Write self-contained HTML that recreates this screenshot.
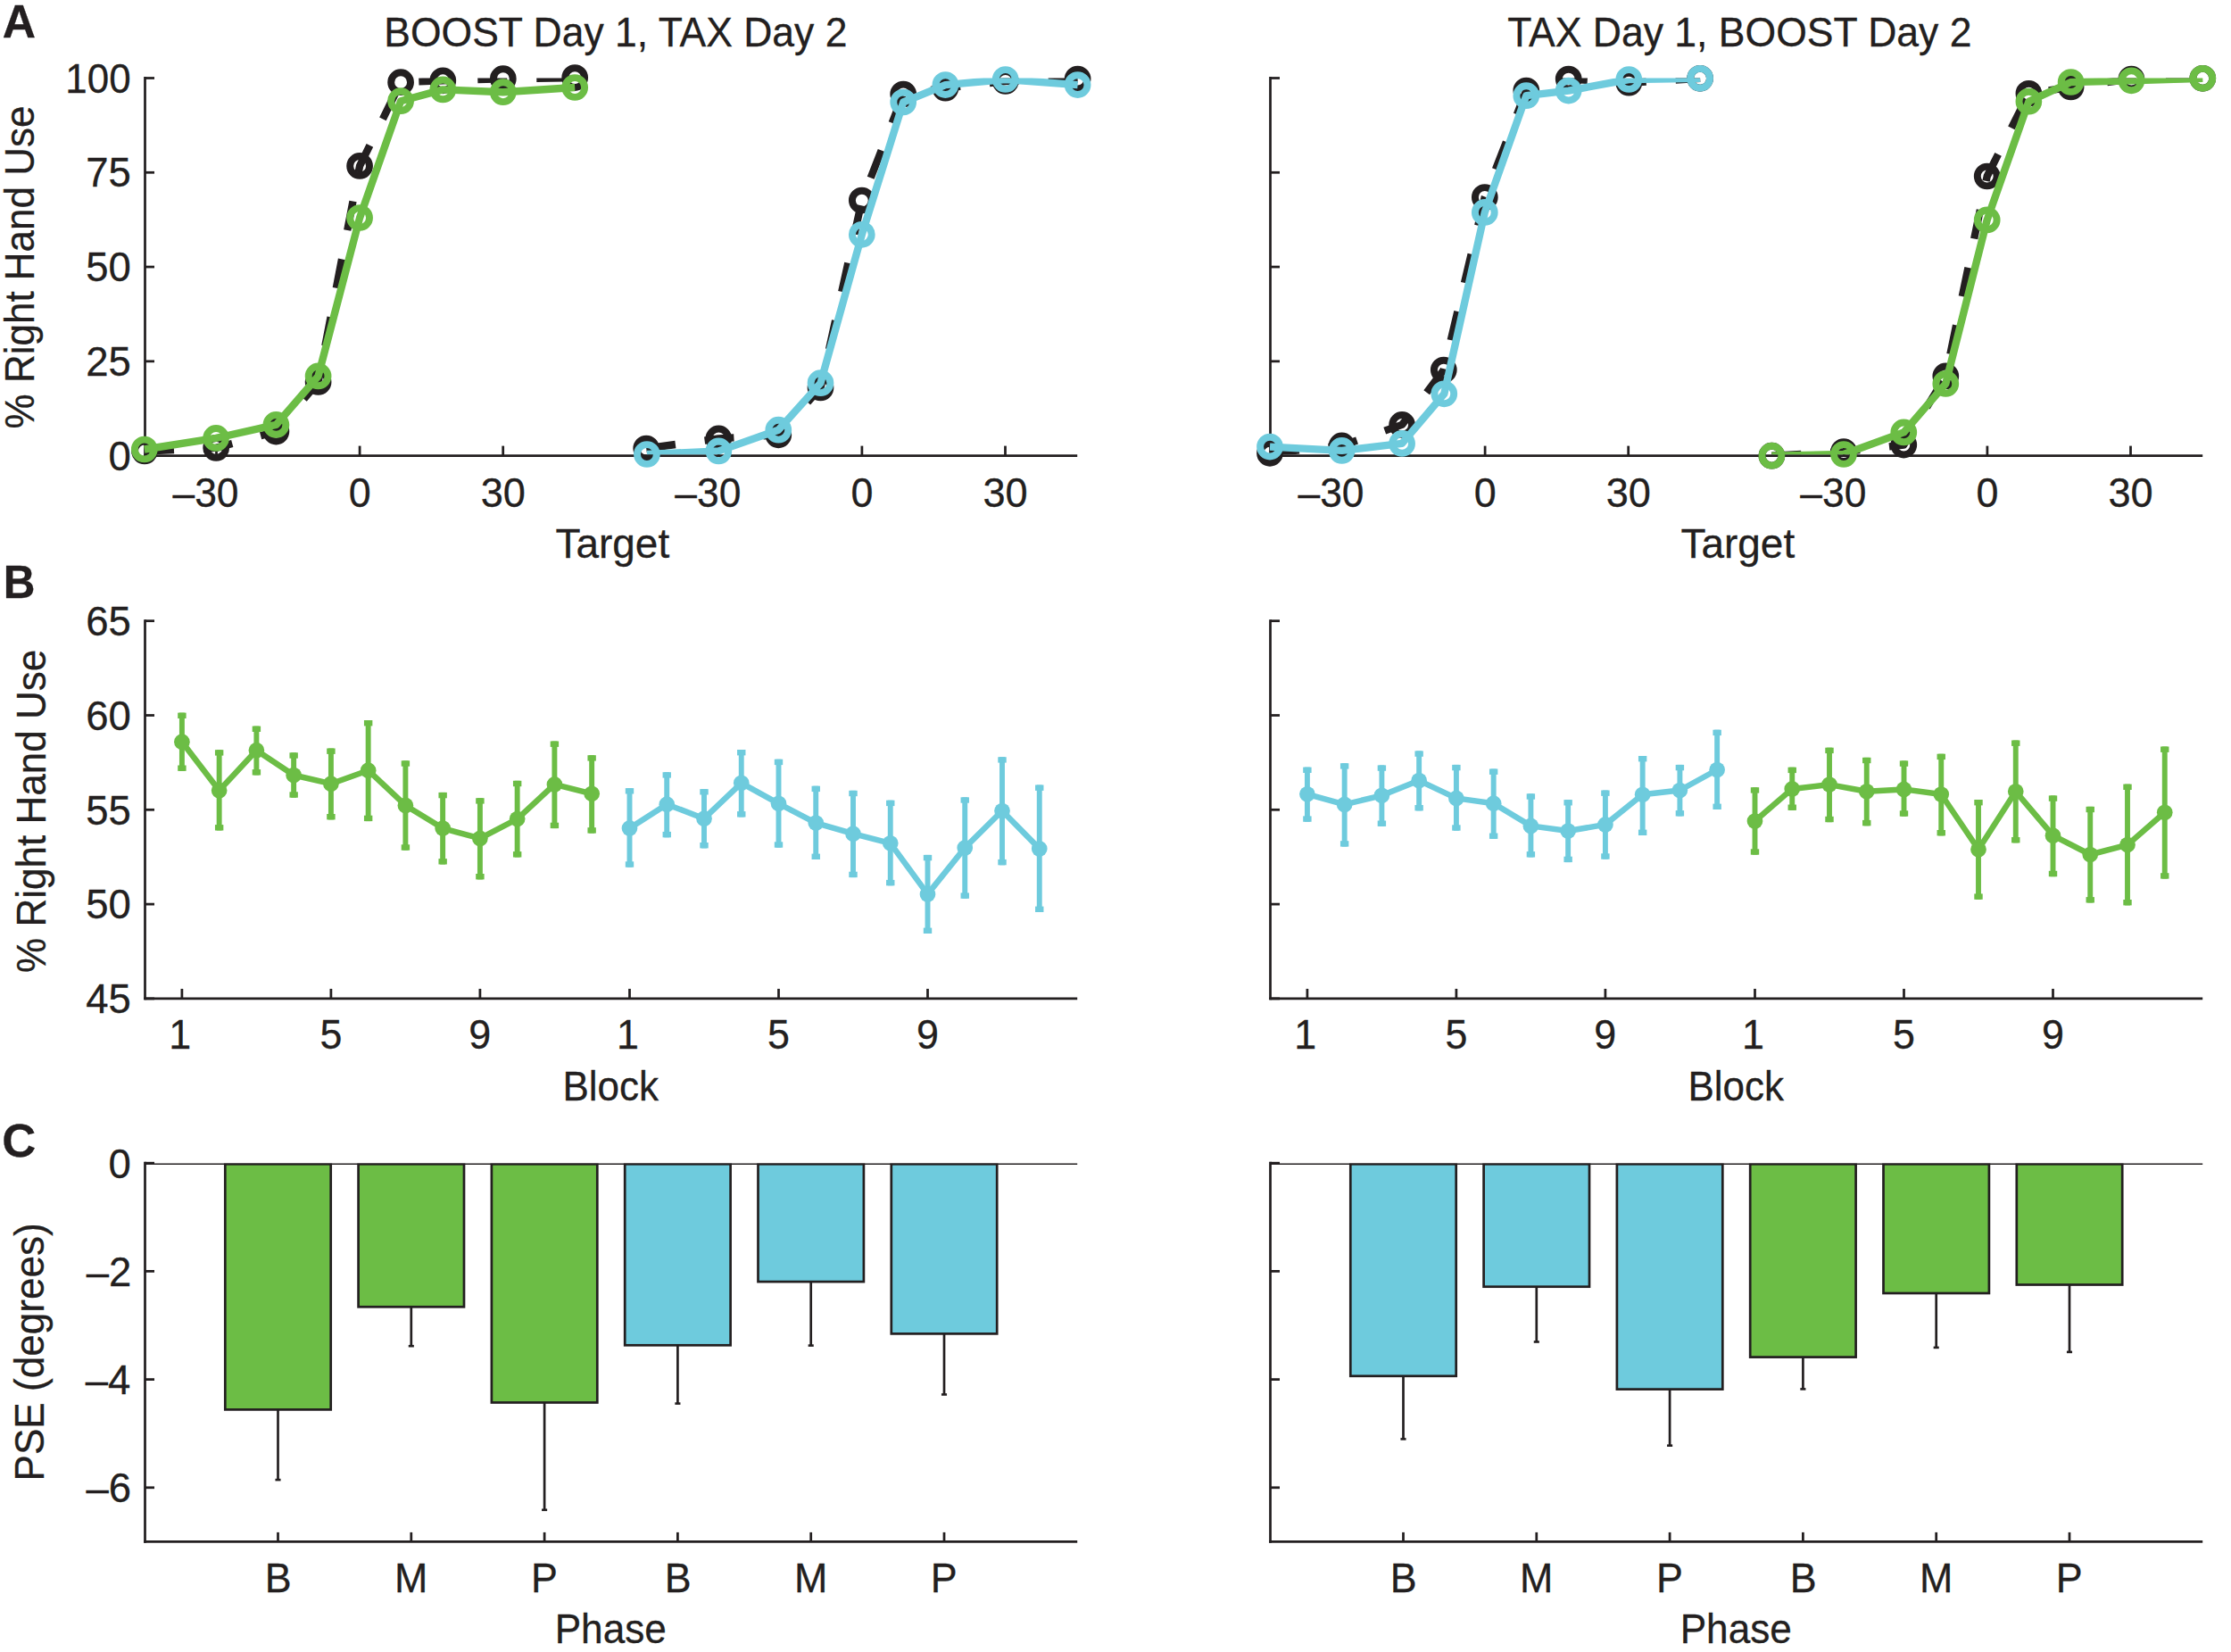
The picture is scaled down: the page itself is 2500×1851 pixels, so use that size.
<!DOCTYPE html>
<html lang="en">
<head>
<meta charset="utf-8">
<title>Figure</title>
<style>
html,body{margin:0;padding:0;background:#fff;}
body{width:2500px;height:1851px;overflow:hidden;}
svg{display:block;}
svg text{font-family:"Liberation Sans",sans-serif;fill:#231f20;stroke:#231f20;stroke-width:0.3px;}
</style>
</head>
<body>
<svg width="2500" height="1851" viewBox="0 0 2500 1851">
<rect x="0" y="0" width="2500" height="1851" fill="#ffffff"/>
<clipPath id="clipA"><rect x="0" y="87.4" width="2500" height="421.83"/></clipPath>
<line x1="162.5" y1="86.12" x2="162.5" y2="511.98" stroke="#231f20" stroke-width="2.75" />
<line x1="161.12" y1="510.6" x2="1207.2" y2="510.6" stroke="#231f20" stroke-width="2.75" />
<line x1="162.5" y1="510.6" x2="173" y2="510.6" stroke="#231f20" stroke-width="2.75" />
<line x1="162.5" y1="404.83" x2="173" y2="404.83" stroke="#231f20" stroke-width="2.75" />
<line x1="162.5" y1="299.05" x2="173" y2="299.05" stroke="#231f20" stroke-width="2.75" />
<line x1="162.5" y1="193.27" x2="173" y2="193.27" stroke="#231f20" stroke-width="2.75" />
<line x1="162.5" y1="87.5" x2="173" y2="87.5" stroke="#231f20" stroke-width="2.75" />
<line x1="242.5" y1="510.6" x2="242.5" y2="499.6" stroke="#231f20" stroke-width="2.75" />
<text x="193.5" y="567.6"  font-size="45.5" textLength="74.03" lengthAdjust="spacingAndGlyphs">–30</text>
<line x1="403.1" y1="510.6" x2="403.1" y2="499.6" stroke="#231f20" stroke-width="2.75" />
<text x="390.66" y="567.6"  font-size="45.5" textLength="24.93" lengthAdjust="spacingAndGlyphs">0</text>
<line x1="563.7" y1="510.6" x2="563.7" y2="499.6" stroke="#231f20" stroke-width="2.75" />
<text x="538.66" y="567.6"  font-size="45.5" textLength="50.19" lengthAdjust="spacingAndGlyphs">30</text>
<line x1="805.3" y1="510.6" x2="805.3" y2="499.6" stroke="#231f20" stroke-width="2.75" />
<text x="756.3" y="567.6"  font-size="45.5" textLength="74.03" lengthAdjust="spacingAndGlyphs">–30</text>
<line x1="965.9" y1="510.6" x2="965.9" y2="499.6" stroke="#231f20" stroke-width="2.75" />
<text x="953.46" y="567.6"  font-size="45.5" textLength="24.93" lengthAdjust="spacingAndGlyphs">0</text>
<line x1="1126.5" y1="510.6" x2="1126.5" y2="499.6" stroke="#231f20" stroke-width="2.75" />
<text x="1101.46" y="567.6"  font-size="45.5" textLength="50.19" lengthAdjust="spacingAndGlyphs">30</text>
<line x1="1423.5" y1="86.12" x2="1423.5" y2="511.98" stroke="#231f20" stroke-width="2.75" />
<line x1="1422.12" y1="510.6" x2="2468.2" y2="510.6" stroke="#231f20" stroke-width="2.75" />
<line x1="1423.5" y1="510.6" x2="1434" y2="510.6" stroke="#231f20" stroke-width="2.75" />
<line x1="1423.5" y1="404.83" x2="1434" y2="404.83" stroke="#231f20" stroke-width="2.75" />
<line x1="1423.5" y1="299.05" x2="1434" y2="299.05" stroke="#231f20" stroke-width="2.75" />
<line x1="1423.5" y1="193.27" x2="1434" y2="193.27" stroke="#231f20" stroke-width="2.75" />
<line x1="1423.5" y1="87.5" x2="1434" y2="87.5" stroke="#231f20" stroke-width="2.75" />
<line x1="1503.5" y1="510.6" x2="1503.5" y2="499.6" stroke="#231f20" stroke-width="2.75" />
<text x="1454.5" y="567.6"  font-size="45.5" textLength="74.03" lengthAdjust="spacingAndGlyphs">–30</text>
<line x1="1664.1" y1="510.6" x2="1664.1" y2="499.6" stroke="#231f20" stroke-width="2.75" />
<text x="1651.66" y="567.6"  font-size="45.5" textLength="24.93" lengthAdjust="spacingAndGlyphs">0</text>
<line x1="1824.7" y1="510.6" x2="1824.7" y2="499.6" stroke="#231f20" stroke-width="2.75" />
<text x="1799.66" y="567.6"  font-size="45.5" textLength="50.19" lengthAdjust="spacingAndGlyphs">30</text>
<line x1="2066.3" y1="510.6" x2="2066.3" y2="499.6" stroke="#231f20" stroke-width="2.75" />
<text x="2017.3" y="567.6"  font-size="45.5" textLength="74.03" lengthAdjust="spacingAndGlyphs">–30</text>
<line x1="2226.9" y1="510.6" x2="2226.9" y2="499.6" stroke="#231f20" stroke-width="2.75" />
<text x="2214.46" y="567.6"  font-size="45.5" textLength="24.93" lengthAdjust="spacingAndGlyphs">0</text>
<line x1="2387.5" y1="510.6" x2="2387.5" y2="499.6" stroke="#231f20" stroke-width="2.75" />
<text x="2362.46" y="567.6"  font-size="45.5" textLength="50.19" lengthAdjust="spacingAndGlyphs">30</text>
<path d="M162 505.5 L242.2 501.9 L309.4 483.6 L356.6 428 L403.1 185.9 L449.1 92.2 L496.3 90.3 L563.8 88.2 L644.2 87.1" fill="none" stroke="#231f20" stroke-width="8.4" stroke-linejoin="round" stroke-dasharray="33 33" clip-path="url(#clipA)"/>
<circle cx="162" cy="505.5" r="10.9" fill="none" stroke="#231f20" stroke-width="7.9"/>
<circle cx="242.2" cy="501.9" r="10.9" fill="none" stroke="#231f20" stroke-width="7.9"/>
<circle cx="309.4" cy="483.6" r="10.9" fill="none" stroke="#231f20" stroke-width="7.9"/>
<circle cx="356.6" cy="428" r="10.9" fill="none" stroke="#231f20" stroke-width="7.9"/>
<circle cx="403.1" cy="185.9" r="10.9" fill="none" stroke="#231f20" stroke-width="7.9"/>
<circle cx="449.1" cy="92.2" r="10.9" fill="none" stroke="#231f20" stroke-width="7.9"/>
<circle cx="496.3" cy="90.3" r="10.9" fill="none" stroke="#231f20" stroke-width="7.9"/>
<circle cx="563.8" cy="88.2" r="10.9" fill="none" stroke="#231f20" stroke-width="7.9"/>
<circle cx="644.2" cy="87.1" r="10.9" fill="none" stroke="#231f20" stroke-width="7.9"/>
<path d="M161.8 503.5 L242.1 490.9 L309.4 475.9 L356.6 421.4 L403.1 244 L449.1 113.2 L496.3 100.4 L563.8 103.2 L644.2 98" fill="none" stroke="#6cbd45" stroke-width="8.4" stroke-linejoin="round" clip-path="url(#clipA)"/>
<circle cx="161.8" cy="503.5" r="10.9" fill="none" stroke="#6cbd45" stroke-width="7.9"/>
<circle cx="242.1" cy="490.9" r="10.9" fill="none" stroke="#6cbd45" stroke-width="7.9"/>
<circle cx="309.4" cy="475.9" r="10.9" fill="none" stroke="#6cbd45" stroke-width="7.9"/>
<circle cx="356.6" cy="421.4" r="10.9" fill="none" stroke="#6cbd45" stroke-width="7.9"/>
<circle cx="403.1" cy="244" r="10.9" fill="none" stroke="#6cbd45" stroke-width="7.9"/>
<circle cx="449.1" cy="113.2" r="10.9" fill="none" stroke="#6cbd45" stroke-width="7.9"/>
<circle cx="496.3" cy="100.4" r="10.9" fill="none" stroke="#6cbd45" stroke-width="7.9"/>
<circle cx="563.8" cy="103.2" r="10.9" fill="none" stroke="#6cbd45" stroke-width="7.9"/>
<circle cx="644.2" cy="98" r="10.9" fill="none" stroke="#6cbd45" stroke-width="7.9"/>
<path d="M724.2 502.5 L805.3 491.4 L872.3 487.3 L919.5 434.5 L965.8 224.6 L1012.2 105.5 L1059.4 98.7 L1126.7 91 L1207.6 88.6" fill="none" stroke="#231f20" stroke-width="8.4" stroke-linejoin="round" stroke-dasharray="33 33" clip-path="url(#clipA)"/>
<circle cx="724.2" cy="502.5" r="10.9" fill="none" stroke="#231f20" stroke-width="7.9"/>
<circle cx="805.3" cy="491.4" r="10.9" fill="none" stroke="#231f20" stroke-width="7.9"/>
<circle cx="872.3" cy="487.3" r="10.9" fill="none" stroke="#231f20" stroke-width="7.9"/>
<circle cx="919.5" cy="434.5" r="10.9" fill="none" stroke="#231f20" stroke-width="7.9"/>
<circle cx="965.8" cy="224.6" r="10.9" fill="none" stroke="#231f20" stroke-width="7.9"/>
<circle cx="1012.2" cy="105.5" r="10.9" fill="none" stroke="#231f20" stroke-width="7.9"/>
<circle cx="1059.4" cy="98.7" r="10.9" fill="none" stroke="#231f20" stroke-width="7.9"/>
<circle cx="1126.7" cy="91" r="10.9" fill="none" stroke="#231f20" stroke-width="7.9"/>
<circle cx="1207.6" cy="88.6" r="10.9" fill="none" stroke="#231f20" stroke-width="7.9"/>
<path d="M724.9 509 L805.3 505.4 L872.3 481.7 L919.5 429.2 L965.8 262.8 L1012.2 114.5 L1059.4 95.1 L1126.7 89 L1207.6 95.1" fill="none" stroke="#6ecbdd" stroke-width="8.4" stroke-linejoin="round" clip-path="url(#clipA)"/>
<circle cx="724.9" cy="509" r="10.9" fill="none" stroke="#6ecbdd" stroke-width="7.9"/>
<circle cx="805.3" cy="505.4" r="10.9" fill="none" stroke="#6ecbdd" stroke-width="7.9"/>
<circle cx="872.3" cy="481.7" r="10.9" fill="none" stroke="#6ecbdd" stroke-width="7.9"/>
<circle cx="919.5" cy="429.2" r="10.9" fill="none" stroke="#6ecbdd" stroke-width="7.9"/>
<circle cx="965.8" cy="262.8" r="10.9" fill="none" stroke="#6ecbdd" stroke-width="7.9"/>
<circle cx="1012.2" cy="114.5" r="10.9" fill="none" stroke="#6ecbdd" stroke-width="7.9"/>
<circle cx="1059.4" cy="95.1" r="10.9" fill="none" stroke="#6ecbdd" stroke-width="7.9"/>
<circle cx="1126.7" cy="89" r="10.9" fill="none" stroke="#6ecbdd" stroke-width="7.9"/>
<circle cx="1207.6" cy="95.1" r="10.9" fill="none" stroke="#6ecbdd" stroke-width="7.9"/>
<path d="M1423 507.8 L1503.6 499.4 L1571.1 475.9 L1617.8 414.6 L1663.8 221 L1710.3 101.6 L1757.7 88.6 L1825.3 92.7 L1905.1 87.8" fill="none" stroke="#231f20" stroke-width="8.4" stroke-linejoin="round" stroke-dasharray="33 33" clip-path="url(#clipA)"/>
<circle cx="1423" cy="507.8" r="10.9" fill="none" stroke="#231f20" stroke-width="7.9"/>
<circle cx="1503.6" cy="499.4" r="10.9" fill="none" stroke="#231f20" stroke-width="7.9"/>
<circle cx="1571.1" cy="475.9" r="10.9" fill="none" stroke="#231f20" stroke-width="7.9"/>
<circle cx="1617.8" cy="414.6" r="10.9" fill="none" stroke="#231f20" stroke-width="7.9"/>
<circle cx="1663.8" cy="221" r="10.9" fill="none" stroke="#231f20" stroke-width="7.9"/>
<circle cx="1710.3" cy="101.6" r="10.9" fill="none" stroke="#231f20" stroke-width="7.9"/>
<circle cx="1757.7" cy="88.6" r="10.9" fill="none" stroke="#231f20" stroke-width="7.9"/>
<circle cx="1825.3" cy="92.7" r="10.9" fill="none" stroke="#231f20" stroke-width="7.9"/>
<circle cx="1905.1" cy="87.8" r="10.9" fill="none" stroke="#231f20" stroke-width="7.9"/>
<path d="M1423 500.6 L1503.6 504.9 L1571.1 496.9 L1618.3 441.3 L1663.8 237.9 L1710.3 107.2 L1757.7 101.6 L1825.3 89 L1905.1 87.8" fill="none" stroke="#6ecbdd" stroke-width="8.4" stroke-linejoin="round" clip-path="url(#clipA)"/>
<circle cx="1423" cy="500.6" r="10.9" fill="none" stroke="#6ecbdd" stroke-width="7.9"/>
<circle cx="1503.6" cy="504.9" r="10.9" fill="none" stroke="#6ecbdd" stroke-width="7.9"/>
<circle cx="1571.1" cy="496.9" r="10.9" fill="none" stroke="#6ecbdd" stroke-width="7.9"/>
<circle cx="1618.3" cy="441.3" r="10.9" fill="none" stroke="#6ecbdd" stroke-width="7.9"/>
<circle cx="1663.8" cy="237.9" r="10.9" fill="none" stroke="#6ecbdd" stroke-width="7.9"/>
<circle cx="1710.3" cy="107.2" r="10.9" fill="none" stroke="#6ecbdd" stroke-width="7.9"/>
<circle cx="1757.7" cy="101.6" r="10.9" fill="none" stroke="#6ecbdd" stroke-width="7.9"/>
<circle cx="1825.3" cy="89" r="10.9" fill="none" stroke="#6ecbdd" stroke-width="7.9"/>
<circle cx="1905.1" cy="87.8" r="10.9" fill="none" stroke="#6ecbdd" stroke-width="7.9"/>
<path d="M1985.4 510.7 L2066 506.1 L2133.3 498.6 L2180.3 421.4 L2226.7 197.5 L2273.4 104.8 L2320.6 97.5 L2388.4 88.5 L2468.3 87.8" fill="none" stroke="#231f20" stroke-width="8.4" stroke-linejoin="round" stroke-dasharray="33 33" clip-path="url(#clipA)"/>
<circle cx="1985.4" cy="510.7" r="10.9" fill="none" stroke="#231f20" stroke-width="7.9"/>
<circle cx="2066" cy="506.1" r="10.9" fill="none" stroke="#231f20" stroke-width="7.9"/>
<circle cx="2133.3" cy="498.6" r="10.9" fill="none" stroke="#231f20" stroke-width="7.9"/>
<circle cx="2180.3" cy="421.4" r="10.9" fill="none" stroke="#231f20" stroke-width="7.9"/>
<circle cx="2226.7" cy="197.5" r="10.9" fill="none" stroke="#231f20" stroke-width="7.9"/>
<circle cx="2273.4" cy="104.8" r="10.9" fill="none" stroke="#231f20" stroke-width="7.9"/>
<circle cx="2320.6" cy="97.5" r="10.9" fill="none" stroke="#231f20" stroke-width="7.9"/>
<circle cx="2388.4" cy="88.5" r="10.9" fill="none" stroke="#231f20" stroke-width="7.9"/>
<circle cx="2468.3" cy="87.8" r="10.9" fill="none" stroke="#231f20" stroke-width="7.9"/>
<path d="M1985.4 510.7 L2066 509 L2133.3 484.4 L2180.3 429.9 L2226.7 246.4 L2273.4 113.7 L2320.6 92 L2388.4 90.3 L2468.3 87.8" fill="none" stroke="#6cbd45" stroke-width="8.4" stroke-linejoin="round" clip-path="url(#clipA)"/>
<circle cx="1985.4" cy="510.7" r="10.9" fill="none" stroke="#6cbd45" stroke-width="7.9"/>
<circle cx="2066" cy="509" r="10.9" fill="none" stroke="#6cbd45" stroke-width="7.9"/>
<circle cx="2133.3" cy="484.4" r="10.9" fill="none" stroke="#6cbd45" stroke-width="7.9"/>
<circle cx="2180.3" cy="429.9" r="10.9" fill="none" stroke="#6cbd45" stroke-width="7.9"/>
<circle cx="2226.7" cy="246.4" r="10.9" fill="none" stroke="#6cbd45" stroke-width="7.9"/>
<circle cx="2273.4" cy="113.7" r="10.9" fill="none" stroke="#6cbd45" stroke-width="7.9"/>
<circle cx="2320.6" cy="92" r="10.9" fill="none" stroke="#6cbd45" stroke-width="7.9"/>
<circle cx="2388.4" cy="90.3" r="10.9" fill="none" stroke="#6cbd45" stroke-width="7.9"/>
<circle cx="2468.3" cy="87.8" r="10.9" fill="none" stroke="#6cbd45" stroke-width="7.9"/>
<text x="121.5" y="526.8"  font-size="45.5" textLength="25.31" lengthAdjust="spacingAndGlyphs">0</text>
<text x="96.25" y="421.03"  font-size="45.5" textLength="50.62" lengthAdjust="spacingAndGlyphs">25</text>
<text x="96.25" y="315.25"  font-size="45.5" textLength="50.62" lengthAdjust="spacingAndGlyphs">50</text>
<text x="96.25" y="209.47"  font-size="45.5" textLength="50.62" lengthAdjust="spacingAndGlyphs">75</text>
<text x="73.35" y="103.7"  font-size="45.5" textLength="73.26" lengthAdjust="spacingAndGlyphs">100</text>
<text x="430.33" y="52.3"  font-size="45.5" textLength="519.1" lengthAdjust="spacingAndGlyphs">BOOST Day 1, TAX Day 2</text>
<text x="1689.22" y="52.3"  font-size="45.5" textLength="520.29" lengthAdjust="spacingAndGlyphs">TAX Day 1, BOOST Day 2</text>
<text x="622.59" y="624.7"  font-size="45.5" textLength="127.58" lengthAdjust="spacingAndGlyphs">Target</text>
<text x="1883.59" y="624.7"  font-size="45.5" textLength="127.58" lengthAdjust="spacingAndGlyphs">Target</text>
<text x="0" y="0" transform="translate(38.2 480.39) rotate(-90)" font-size="45.5" textLength="361.77" lengthAdjust="spacingAndGlyphs">% Right Hand Use</text>
<text x="2.75" y="42.4"  font-size="51.7" font-weight="bold" textLength="37.27" lengthAdjust="spacingAndGlyphs">A</text>
<line x1="162.5" y1="694.33" x2="162.5" y2="1120.28" stroke="#231f20" stroke-width="2.75" />
<line x1="161.12" y1="1118.9" x2="1207.2" y2="1118.9" stroke="#231f20" stroke-width="2.75" />
<line x1="162.5" y1="1118.9" x2="173" y2="1118.9" stroke="#231f20" stroke-width="2.75" />
<line x1="162.5" y1="1013.1" x2="173" y2="1013.1" stroke="#231f20" stroke-width="2.75" />
<line x1="162.5" y1="907.3" x2="173" y2="907.3" stroke="#231f20" stroke-width="2.75" />
<line x1="162.5" y1="801.5" x2="173" y2="801.5" stroke="#231f20" stroke-width="2.75" />
<line x1="162.5" y1="695.7" x2="173" y2="695.7" stroke="#231f20" stroke-width="2.75" />
<line x1="203.9" y1="1118.9" x2="203.9" y2="1107.9" stroke="#231f20" stroke-width="2.75" />
<text x="189.35" y="1175.4"  font-size="45.5" textLength="24.93" lengthAdjust="spacingAndGlyphs">1</text>
<line x1="370.9" y1="1118.9" x2="370.9" y2="1107.9" stroke="#231f20" stroke-width="2.75" />
<text x="358.46" y="1175.4"  font-size="45.5" textLength="24.93" lengthAdjust="spacingAndGlyphs">5</text>
<line x1="537.9" y1="1118.9" x2="537.9" y2="1107.9" stroke="#231f20" stroke-width="2.75" />
<text x="525.34" y="1175.4"  font-size="45.5" textLength="24.93" lengthAdjust="spacingAndGlyphs">9</text>
<line x1="705.5" y1="1118.9" x2="705.5" y2="1107.9" stroke="#231f20" stroke-width="2.75" />
<text x="690.95" y="1175.4"  font-size="45.5" textLength="24.93" lengthAdjust="spacingAndGlyphs">1</text>
<line x1="872.5" y1="1118.9" x2="872.5" y2="1107.9" stroke="#231f20" stroke-width="2.75" />
<text x="860.06" y="1175.4"  font-size="45.5" textLength="24.93" lengthAdjust="spacingAndGlyphs">5</text>
<line x1="1039.5" y1="1118.9" x2="1039.5" y2="1107.9" stroke="#231f20" stroke-width="2.75" />
<text x="1026.94" y="1175.4"  font-size="45.5" textLength="24.93" lengthAdjust="spacingAndGlyphs">9</text>
<line x1="1423.5" y1="694.33" x2="1423.5" y2="1120.28" stroke="#231f20" stroke-width="2.75" />
<line x1="1422.12" y1="1118.9" x2="2468.2" y2="1118.9" stroke="#231f20" stroke-width="2.75" />
<line x1="1423.5" y1="1118.9" x2="1434" y2="1118.9" stroke="#231f20" stroke-width="2.75" />
<line x1="1423.5" y1="1013.1" x2="1434" y2="1013.1" stroke="#231f20" stroke-width="2.75" />
<line x1="1423.5" y1="907.3" x2="1434" y2="907.3" stroke="#231f20" stroke-width="2.75" />
<line x1="1423.5" y1="801.5" x2="1434" y2="801.5" stroke="#231f20" stroke-width="2.75" />
<line x1="1423.5" y1="695.7" x2="1434" y2="695.7" stroke="#231f20" stroke-width="2.75" />
<line x1="1464.9" y1="1118.9" x2="1464.9" y2="1107.9" stroke="#231f20" stroke-width="2.75" />
<text x="1450.35" y="1175.4"  font-size="45.5" textLength="24.93" lengthAdjust="spacingAndGlyphs">1</text>
<line x1="1631.9" y1="1118.9" x2="1631.9" y2="1107.9" stroke="#231f20" stroke-width="2.75" />
<text x="1619.46" y="1175.4"  font-size="45.5" textLength="24.93" lengthAdjust="spacingAndGlyphs">5</text>
<line x1="1798.9" y1="1118.9" x2="1798.9" y2="1107.9" stroke="#231f20" stroke-width="2.75" />
<text x="1786.34" y="1175.4"  font-size="45.5" textLength="24.93" lengthAdjust="spacingAndGlyphs">9</text>
<line x1="1966.5" y1="1118.9" x2="1966.5" y2="1107.9" stroke="#231f20" stroke-width="2.75" />
<text x="1951.95" y="1175.4"  font-size="45.5" textLength="24.93" lengthAdjust="spacingAndGlyphs">1</text>
<line x1="2133.5" y1="1118.9" x2="2133.5" y2="1107.9" stroke="#231f20" stroke-width="2.75" />
<text x="2121.06" y="1175.4"  font-size="45.5" textLength="24.93" lengthAdjust="spacingAndGlyphs">5</text>
<line x1="2300.5" y1="1118.9" x2="2300.5" y2="1107.9" stroke="#231f20" stroke-width="2.75" />
<text x="2287.94" y="1175.4"  font-size="45.5" textLength="24.93" lengthAdjust="spacingAndGlyphs">9</text>
<rect x="200.95" y="798.6" width="5.9" height="65.3" fill="#6cbd45"/>
<rect x="199.2" y="798.6" width="9.4" height="6.4" fill="#6cbd45"/>
<rect x="199.2" y="857.5" width="9.4" height="6.4" fill="#6cbd45"/>
<rect x="242.7" y="840.2" width="5.9" height="90.3" fill="#6cbd45"/>
<rect x="240.95" y="840.2" width="9.4" height="6.4" fill="#6cbd45"/>
<rect x="240.95" y="924.1" width="9.4" height="6.4" fill="#6cbd45"/>
<rect x="284.45" y="813.6" width="5.9" height="54.9" fill="#6cbd45"/>
<rect x="282.7" y="813.6" width="9.4" height="6.4" fill="#6cbd45"/>
<rect x="282.7" y="862.1" width="9.4" height="6.4" fill="#6cbd45"/>
<rect x="326.2" y="843.3" width="5.9" height="50.4" fill="#6cbd45"/>
<rect x="324.45" y="843.3" width="9.4" height="6.4" fill="#6cbd45"/>
<rect x="324.45" y="887.3" width="9.4" height="6.4" fill="#6cbd45"/>
<rect x="367.95" y="838.5" width="5.9" height="79.9" fill="#6cbd45"/>
<rect x="366.2" y="838.5" width="9.4" height="6.4" fill="#6cbd45"/>
<rect x="366.2" y="912" width="9.4" height="6.4" fill="#6cbd45"/>
<rect x="409.7" y="807" width="5.9" height="113.1" fill="#6cbd45"/>
<rect x="407.95" y="807" width="9.4" height="6.4" fill="#6cbd45"/>
<rect x="407.95" y="913.7" width="9.4" height="6.4" fill="#6cbd45"/>
<rect x="451.45" y="852.3" width="5.9" height="100.4" fill="#6cbd45"/>
<rect x="449.7" y="852.3" width="9.4" height="6.4" fill="#6cbd45"/>
<rect x="449.7" y="946.3" width="9.4" height="6.4" fill="#6cbd45"/>
<rect x="493.2" y="887.9" width="5.9" height="80.6" fill="#6cbd45"/>
<rect x="491.45" y="887.9" width="9.4" height="6.4" fill="#6cbd45"/>
<rect x="491.45" y="962.1" width="9.4" height="6.4" fill="#6cbd45"/>
<rect x="534.95" y="894.2" width="5.9" height="91.2" fill="#6cbd45"/>
<rect x="533.2" y="894.2" width="9.4" height="6.4" fill="#6cbd45"/>
<rect x="533.2" y="979" width="9.4" height="6.4" fill="#6cbd45"/>
<rect x="576.7" y="874.8" width="5.9" height="85.7" fill="#6cbd45"/>
<rect x="574.95" y="874.8" width="9.4" height="6.4" fill="#6cbd45"/>
<rect x="574.95" y="954.1" width="9.4" height="6.4" fill="#6cbd45"/>
<rect x="618.45" y="830.5" width="5.9" height="97.6" fill="#6cbd45"/>
<rect x="616.7" y="830.5" width="9.4" height="6.4" fill="#6cbd45"/>
<rect x="616.7" y="921.7" width="9.4" height="6.4" fill="#6cbd45"/>
<rect x="660.2" y="846.2" width="5.9" height="87.4" fill="#6cbd45"/>
<rect x="658.45" y="846.2" width="9.4" height="6.4" fill="#6cbd45"/>
<rect x="658.45" y="927.2" width="9.4" height="6.4" fill="#6cbd45"/>
<path d="M203.9 831.2 L245.65 885.7 L287.4 840.7 L329.15 868.5 L370.9 878.2 L412.65 863.2 L454.4 902.4 L496.15 928.1 L537.9 939.4 L579.65 917.6 L621.4 878.9 L663.15 889.3" fill="none" stroke="#6cbd45" stroke-width="6.5" stroke-linejoin="round"/>
<circle cx="203.9" cy="831.2" r="8.85" fill="#6cbd45"/>
<circle cx="245.65" cy="885.7" r="8.85" fill="#6cbd45"/>
<circle cx="287.4" cy="840.7" r="8.85" fill="#6cbd45"/>
<circle cx="329.15" cy="868.5" r="8.85" fill="#6cbd45"/>
<circle cx="370.9" cy="878.2" r="8.85" fill="#6cbd45"/>
<circle cx="412.65" cy="863.2" r="8.85" fill="#6cbd45"/>
<circle cx="454.4" cy="902.4" r="8.85" fill="#6cbd45"/>
<circle cx="496.15" cy="928.1" r="8.85" fill="#6cbd45"/>
<circle cx="537.9" cy="939.4" r="8.85" fill="#6cbd45"/>
<circle cx="579.65" cy="917.6" r="8.85" fill="#6cbd45"/>
<circle cx="621.4" cy="878.9" r="8.85" fill="#6cbd45"/>
<circle cx="663.15" cy="889.3" r="8.85" fill="#6cbd45"/>
<rect x="702.55" y="883.1" width="5.9" height="88.6" fill="#6ecbdd"/>
<rect x="700.8" y="883.1" width="9.4" height="6.4" fill="#6ecbdd"/>
<rect x="700.8" y="965.3" width="9.4" height="6.4" fill="#6ecbdd"/>
<rect x="744.3" y="865.2" width="5.9" height="73.1" fill="#6ecbdd"/>
<rect x="742.55" y="865.2" width="9.4" height="6.4" fill="#6ecbdd"/>
<rect x="742.55" y="931.9" width="9.4" height="6.4" fill="#6ecbdd"/>
<rect x="786.05" y="884.1" width="5.9" height="66.3" fill="#6ecbdd"/>
<rect x="784.3" y="884.1" width="9.4" height="6.4" fill="#6ecbdd"/>
<rect x="784.3" y="944" width="9.4" height="6.4" fill="#6ecbdd"/>
<rect x="827.8" y="840" width="5.9" height="75.5" fill="#6ecbdd"/>
<rect x="826.05" y="840" width="9.4" height="6.4" fill="#6ecbdd"/>
<rect x="826.05" y="909.1" width="9.4" height="6.4" fill="#6ecbdd"/>
<rect x="869.55" y="850.7" width="5.9" height="99" fill="#6ecbdd"/>
<rect x="867.8" y="850.7" width="9.4" height="6.4" fill="#6ecbdd"/>
<rect x="867.8" y="943.3" width="9.4" height="6.4" fill="#6ecbdd"/>
<rect x="911.3" y="880.7" width="5.9" height="82.3" fill="#6ecbdd"/>
<rect x="909.55" y="880.7" width="9.4" height="6.4" fill="#6ecbdd"/>
<rect x="909.55" y="956.6" width="9.4" height="6.4" fill="#6ecbdd"/>
<rect x="953.05" y="885.8" width="5.9" height="97.3" fill="#6ecbdd"/>
<rect x="951.3" y="885.8" width="9.4" height="6.4" fill="#6ecbdd"/>
<rect x="951.3" y="976.7" width="9.4" height="6.4" fill="#6ecbdd"/>
<rect x="994.8" y="896.7" width="5.9" height="95.6" fill="#6ecbdd"/>
<rect x="993.05" y="896.7" width="9.4" height="6.4" fill="#6ecbdd"/>
<rect x="993.05" y="985.9" width="9.4" height="6.4" fill="#6ecbdd"/>
<rect x="1036.55" y="957.9" width="5.9" height="88.1" fill="#6ecbdd"/>
<rect x="1034.8" y="957.9" width="9.4" height="6.4" fill="#6ecbdd"/>
<rect x="1034.8" y="1039.6" width="9.4" height="6.4" fill="#6ecbdd"/>
<rect x="1078.3" y="893.3" width="5.9" height="113.5" fill="#6ecbdd"/>
<rect x="1076.55" y="893.3" width="9.4" height="6.4" fill="#6ecbdd"/>
<rect x="1076.55" y="1000.4" width="9.4" height="6.4" fill="#6ecbdd"/>
<rect x="1120.05" y="848.2" width="5.9" height="121.1" fill="#6ecbdd"/>
<rect x="1118.3" y="848.2" width="9.4" height="6.4" fill="#6ecbdd"/>
<rect x="1118.3" y="962.9" width="9.4" height="6.4" fill="#6ecbdd"/>
<rect x="1161.8" y="879.5" width="5.9" height="142.5" fill="#6ecbdd"/>
<rect x="1160.05" y="879.5" width="9.4" height="6.4" fill="#6ecbdd"/>
<rect x="1160.05" y="1015.6" width="9.4" height="6.4" fill="#6ecbdd"/>
<path d="M705.5 927.9 L747.25 901.2 L789 917.2 L830.75 877.3 L872.5 900.3 L914.25 922.1 L956 934.2 L997.75 944.8 L1039.5 1001.9 L1081.25 949.9 L1123 908.5 L1164.75 950.9" fill="none" stroke="#6ecbdd" stroke-width="6.5" stroke-linejoin="round"/>
<circle cx="705.5" cy="927.9" r="8.85" fill="#6ecbdd"/>
<circle cx="747.25" cy="901.2" r="8.85" fill="#6ecbdd"/>
<circle cx="789" cy="917.2" r="8.85" fill="#6ecbdd"/>
<circle cx="830.75" cy="877.3" r="8.85" fill="#6ecbdd"/>
<circle cx="872.5" cy="900.3" r="8.85" fill="#6ecbdd"/>
<circle cx="914.25" cy="922.1" r="8.85" fill="#6ecbdd"/>
<circle cx="956" cy="934.2" r="8.85" fill="#6ecbdd"/>
<circle cx="997.75" cy="944.8" r="8.85" fill="#6ecbdd"/>
<circle cx="1039.5" cy="1001.9" r="8.85" fill="#6ecbdd"/>
<circle cx="1081.25" cy="949.9" r="8.85" fill="#6ecbdd"/>
<circle cx="1123" cy="908.5" r="8.85" fill="#6ecbdd"/>
<circle cx="1164.75" cy="950.9" r="8.85" fill="#6ecbdd"/>
<rect x="1461.95" y="859.6" width="5.9" height="61.2" fill="#6ecbdd"/>
<rect x="1460.2" y="859.6" width="9.4" height="6.4" fill="#6ecbdd"/>
<rect x="1460.2" y="914.4" width="9.4" height="6.4" fill="#6ecbdd"/>
<rect x="1503.7" y="855.2" width="5.9" height="93.4" fill="#6ecbdd"/>
<rect x="1501.95" y="855.2" width="9.4" height="6.4" fill="#6ecbdd"/>
<rect x="1501.95" y="942.2" width="9.4" height="6.4" fill="#6ecbdd"/>
<rect x="1545.45" y="857.4" width="5.9" height="68.5" fill="#6ecbdd"/>
<rect x="1543.7" y="857.4" width="9.4" height="6.4" fill="#6ecbdd"/>
<rect x="1543.7" y="919.5" width="9.4" height="6.4" fill="#6ecbdd"/>
<rect x="1587.2" y="841.4" width="5.9" height="67" fill="#6ecbdd"/>
<rect x="1585.45" y="841.4" width="9.4" height="6.4" fill="#6ecbdd"/>
<rect x="1585.45" y="902" width="9.4" height="6.4" fill="#6ecbdd"/>
<rect x="1628.95" y="856.9" width="5.9" height="73.8" fill="#6ecbdd"/>
<rect x="1627.2" y="856.9" width="9.4" height="6.4" fill="#6ecbdd"/>
<rect x="1627.2" y="924.3" width="9.4" height="6.4" fill="#6ecbdd"/>
<rect x="1670.7" y="861.5" width="5.9" height="78.4" fill="#6ecbdd"/>
<rect x="1668.95" y="861.5" width="9.4" height="6.4" fill="#6ecbdd"/>
<rect x="1668.95" y="933.5" width="9.4" height="6.4" fill="#6ecbdd"/>
<rect x="1712.45" y="889.3" width="5.9" height="71.2" fill="#6ecbdd"/>
<rect x="1710.7" y="889.3" width="9.4" height="6.4" fill="#6ecbdd"/>
<rect x="1710.7" y="954.1" width="9.4" height="6.4" fill="#6ecbdd"/>
<rect x="1754.2" y="896.1" width="5.9" height="70" fill="#6ecbdd"/>
<rect x="1752.45" y="896.1" width="9.4" height="6.4" fill="#6ecbdd"/>
<rect x="1752.45" y="959.7" width="9.4" height="6.4" fill="#6ecbdd"/>
<rect x="1795.95" y="885.5" width="5.9" height="77.2" fill="#6ecbdd"/>
<rect x="1794.2" y="885.5" width="9.4" height="6.4" fill="#6ecbdd"/>
<rect x="1794.2" y="956.3" width="9.4" height="6.4" fill="#6ecbdd"/>
<rect x="1837.7" y="847" width="5.9" height="89" fill="#6ecbdd"/>
<rect x="1835.95" y="847" width="9.4" height="6.4" fill="#6ecbdd"/>
<rect x="1835.95" y="929.6" width="9.4" height="6.4" fill="#6ecbdd"/>
<rect x="1879.45" y="856.9" width="5.9" height="57.6" fill="#6ecbdd"/>
<rect x="1877.7" y="856.9" width="9.4" height="6.4" fill="#6ecbdd"/>
<rect x="1877.7" y="908.1" width="9.4" height="6.4" fill="#6ecbdd"/>
<rect x="1921.2" y="817.7" width="5.9" height="89.3" fill="#6ecbdd"/>
<rect x="1919.45" y="817.7" width="9.4" height="6.4" fill="#6ecbdd"/>
<rect x="1919.45" y="900.6" width="9.4" height="6.4" fill="#6ecbdd"/>
<path d="M1464.9 889.8 L1506.65 901.4 L1548.4 891.3 L1590.15 874.6 L1631.9 894.4 L1673.65 900.2 L1715.4 925.4 L1757.15 931 L1798.9 923.9 L1840.65 890.3 L1882.4 885.5 L1924.15 862.5" fill="none" stroke="#6ecbdd" stroke-width="6.5" stroke-linejoin="round"/>
<circle cx="1464.9" cy="889.8" r="8.85" fill="#6ecbdd"/>
<circle cx="1506.65" cy="901.4" r="8.85" fill="#6ecbdd"/>
<circle cx="1548.4" cy="891.3" r="8.85" fill="#6ecbdd"/>
<circle cx="1590.15" cy="874.6" r="8.85" fill="#6ecbdd"/>
<circle cx="1631.9" cy="894.4" r="8.85" fill="#6ecbdd"/>
<circle cx="1673.65" cy="900.2" r="8.85" fill="#6ecbdd"/>
<circle cx="1715.4" cy="925.4" r="8.85" fill="#6ecbdd"/>
<circle cx="1757.15" cy="931" r="8.85" fill="#6ecbdd"/>
<circle cx="1798.9" cy="923.9" r="8.85" fill="#6ecbdd"/>
<circle cx="1840.65" cy="890.3" r="8.85" fill="#6ecbdd"/>
<circle cx="1882.4" cy="885.5" r="8.85" fill="#6ecbdd"/>
<circle cx="1924.15" cy="862.5" r="8.85" fill="#6ecbdd"/>
<rect x="1963.55" y="882.2" width="5.9" height="75.5" fill="#6cbd45"/>
<rect x="1961.8" y="882.2" width="9.4" height="6.4" fill="#6cbd45"/>
<rect x="1961.8" y="951.3" width="9.4" height="6.4" fill="#6cbd45"/>
<rect x="2005.3" y="859.7" width="5.9" height="48.2" fill="#6cbd45"/>
<rect x="2003.55" y="859.7" width="9.4" height="6.4" fill="#6cbd45"/>
<rect x="2003.55" y="901.5" width="9.4" height="6.4" fill="#6cbd45"/>
<rect x="2047.05" y="837.7" width="5.9" height="83.5" fill="#6cbd45"/>
<rect x="2045.3" y="837.7" width="9.4" height="6.4" fill="#6cbd45"/>
<rect x="2045.3" y="914.8" width="9.4" height="6.4" fill="#6cbd45"/>
<rect x="2088.8" y="848.8" width="5.9" height="76.5" fill="#6cbd45"/>
<rect x="2087.05" y="848.8" width="9.4" height="6.4" fill="#6cbd45"/>
<rect x="2087.05" y="918.9" width="9.4" height="6.4" fill="#6cbd45"/>
<rect x="2130.55" y="852.4" width="5.9" height="62.3" fill="#6cbd45"/>
<rect x="2128.8" y="852.4" width="9.4" height="6.4" fill="#6cbd45"/>
<rect x="2128.8" y="908.3" width="9.4" height="6.4" fill="#6cbd45"/>
<rect x="2172.3" y="844.7" width="5.9" height="91.7" fill="#6cbd45"/>
<rect x="2170.55" y="844.7" width="9.4" height="6.4" fill="#6cbd45"/>
<rect x="2170.55" y="930" width="9.4" height="6.4" fill="#6cbd45"/>
<rect x="2214.05" y="896" width="5.9" height="111.8" fill="#6cbd45"/>
<rect x="2212.3" y="896" width="9.4" height="6.4" fill="#6cbd45"/>
<rect x="2212.3" y="1001.4" width="9.4" height="6.4" fill="#6cbd45"/>
<rect x="2255.8" y="829.5" width="5.9" height="114.9" fill="#6cbd45"/>
<rect x="2254.05" y="829.5" width="9.4" height="6.4" fill="#6cbd45"/>
<rect x="2254.05" y="938" width="9.4" height="6.4" fill="#6cbd45"/>
<rect x="2297.55" y="891.4" width="5.9" height="90.8" fill="#6cbd45"/>
<rect x="2295.8" y="891.4" width="9.4" height="6.4" fill="#6cbd45"/>
<rect x="2295.8" y="975.8" width="9.4" height="6.4" fill="#6cbd45"/>
<rect x="2339.3" y="903.8" width="5.9" height="107.7" fill="#6cbd45"/>
<rect x="2337.55" y="903.8" width="9.4" height="6.4" fill="#6cbd45"/>
<rect x="2337.55" y="1005.1" width="9.4" height="6.4" fill="#6cbd45"/>
<rect x="2381.05" y="878.6" width="5.9" height="135.8" fill="#6cbd45"/>
<rect x="2379.3" y="878.6" width="9.4" height="6.4" fill="#6cbd45"/>
<rect x="2379.3" y="1008" width="9.4" height="6.4" fill="#6cbd45"/>
<rect x="2422.8" y="836.5" width="5.9" height="148.1" fill="#6cbd45"/>
<rect x="2421.05" y="836.5" width="9.4" height="6.4" fill="#6cbd45"/>
<rect x="2421.05" y="978.2" width="9.4" height="6.4" fill="#6cbd45"/>
<path d="M1966.5 920 L2008.25 883.9 L2050 879.1 L2091.75 886.8 L2133.5 884.4 L2175.25 890 L2217 951.7 L2258.75 886.8 L2300.5 936.2 L2342.25 957.5 L2384 946.6 L2425.75 910.3" fill="none" stroke="#6cbd45" stroke-width="6.5" stroke-linejoin="round"/>
<circle cx="1966.5" cy="920" r="8.85" fill="#6cbd45"/>
<circle cx="2008.25" cy="883.9" r="8.85" fill="#6cbd45"/>
<circle cx="2050" cy="879.1" r="8.85" fill="#6cbd45"/>
<circle cx="2091.75" cy="886.8" r="8.85" fill="#6cbd45"/>
<circle cx="2133.5" cy="884.4" r="8.85" fill="#6cbd45"/>
<circle cx="2175.25" cy="890" r="8.85" fill="#6cbd45"/>
<circle cx="2217" cy="951.7" r="8.85" fill="#6cbd45"/>
<circle cx="2258.75" cy="886.8" r="8.85" fill="#6cbd45"/>
<circle cx="2300.5" cy="936.2" r="8.85" fill="#6cbd45"/>
<circle cx="2342.25" cy="957.5" r="8.85" fill="#6cbd45"/>
<circle cx="2384" cy="946.6" r="8.85" fill="#6cbd45"/>
<circle cx="2425.75" cy="910.3" r="8.85" fill="#6cbd45"/>
<text x="96.25" y="1135.1"  font-size="45.5" textLength="50.62" lengthAdjust="spacingAndGlyphs">45</text>
<text x="96.25" y="1029.3"  font-size="45.5" textLength="50.62" lengthAdjust="spacingAndGlyphs">50</text>
<text x="96.25" y="923.5"  font-size="45.5" textLength="50.62" lengthAdjust="spacingAndGlyphs">55</text>
<text x="96.25" y="817.7"  font-size="45.5" textLength="50.62" lengthAdjust="spacingAndGlyphs">60</text>
<text x="96.25" y="711.9"  font-size="45.5" textLength="50.62" lengthAdjust="spacingAndGlyphs">65</text>
<text x="630.47" y="1232.8"  font-size="45.5" textLength="107.64" lengthAdjust="spacingAndGlyphs">Block</text>
<text x="1891.47" y="1232.8"  font-size="45.5" textLength="107.64" lengthAdjust="spacingAndGlyphs">Block</text>
<text x="0" y="0" transform="translate(50.5 1089.89) rotate(-90)" font-size="45.5" textLength="362.17" lengthAdjust="spacingAndGlyphs">% Right Hand Use</text>
<text x="3.86" y="669.6"  font-size="51.7" font-weight="bold" textLength="35.67" lengthAdjust="spacingAndGlyphs">B</text>
<clipPath id="clipC"><rect x="0" y="1303.6" width="2500" height="433.1"/></clipPath>
<line x1="162.5" y1="1304.3" x2="1207.2" y2="1304.3" stroke="#231f20" stroke-width="1.4" />
<rect x="252.3" y="1304.3" width="118.4" height="275.1" fill="#6cbd45" stroke="#231f20" stroke-width="2.7" clip-path="url(#clipC)"/>
<line x1="311.5" y1="1579.4" x2="311.5" y2="1658.4" stroke="#231f20" stroke-width="2.7" />
<line x1="308.45" y1="1658.1" x2="314.55" y2="1658.1" stroke="#231f20" stroke-width="2.6" />
<line x1="311.5" y1="1727.4" x2="311.5" y2="1716.9" stroke="#231f20" stroke-width="2.75" />
<text x="296.76" y="1783.8"  font-size="45.5" textLength="29.9" lengthAdjust="spacingAndGlyphs">B</text>
<rect x="401.6" y="1304.3" width="118.4" height="160" fill="#6cbd45" stroke="#231f20" stroke-width="2.7" clip-path="url(#clipC)"/>
<line x1="460.8" y1="1464.3" x2="460.8" y2="1508.5" stroke="#231f20" stroke-width="2.7" />
<line x1="457.75" y1="1508.2" x2="463.85" y2="1508.2" stroke="#231f20" stroke-width="2.6" />
<line x1="460.8" y1="1727.4" x2="460.8" y2="1716.9" stroke="#231f20" stroke-width="2.75" />
<text x="442.09" y="1783.8"  font-size="45.5" textLength="37.34" lengthAdjust="spacingAndGlyphs">M</text>
<rect x="550.9" y="1304.3" width="118.4" height="267.2" fill="#6cbd45" stroke="#231f20" stroke-width="2.7" clip-path="url(#clipC)"/>
<line x1="610.1" y1="1571.5" x2="610.1" y2="1692.1" stroke="#231f20" stroke-width="2.7" />
<line x1="607.05" y1="1691.8" x2="613.15" y2="1691.8" stroke="#231f20" stroke-width="2.6" />
<line x1="610.1" y1="1727.4" x2="610.1" y2="1716.9" stroke="#231f20" stroke-width="2.75" />
<text x="594.96" y="1783.8"  font-size="45.5" textLength="29.9" lengthAdjust="spacingAndGlyphs">P</text>
<rect x="700.2" y="1304.3" width="118.4" height="203" fill="#6ecbdd" stroke="#231f20" stroke-width="2.7" clip-path="url(#clipC)"/>
<line x1="759.4" y1="1507.3" x2="759.4" y2="1572.9" stroke="#231f20" stroke-width="2.7" />
<line x1="756.35" y1="1572.6" x2="762.45" y2="1572.6" stroke="#231f20" stroke-width="2.6" />
<line x1="759.4" y1="1727.4" x2="759.4" y2="1716.9" stroke="#231f20" stroke-width="2.75" />
<text x="744.66" y="1783.8"  font-size="45.5" textLength="29.9" lengthAdjust="spacingAndGlyphs">B</text>
<rect x="849.5" y="1304.3" width="118.4" height="131.8" fill="#6ecbdd" stroke="#231f20" stroke-width="2.7" clip-path="url(#clipC)"/>
<line x1="908.7" y1="1436.1" x2="908.7" y2="1507.9" stroke="#231f20" stroke-width="2.7" />
<line x1="905.65" y1="1507.6" x2="911.75" y2="1507.6" stroke="#231f20" stroke-width="2.6" />
<line x1="908.7" y1="1727.4" x2="908.7" y2="1716.9" stroke="#231f20" stroke-width="2.75" />
<text x="889.99" y="1783.8"  font-size="45.5" textLength="37.34" lengthAdjust="spacingAndGlyphs">M</text>
<rect x="998.8" y="1304.3" width="118.4" height="190.1" fill="#6ecbdd" stroke="#231f20" stroke-width="2.7" clip-path="url(#clipC)"/>
<line x1="1058" y1="1494.4" x2="1058" y2="1562.8" stroke="#231f20" stroke-width="2.7" />
<line x1="1054.95" y1="1562.5" x2="1061.05" y2="1562.5" stroke="#231f20" stroke-width="2.6" />
<line x1="1058" y1="1727.4" x2="1058" y2="1716.9" stroke="#231f20" stroke-width="2.75" />
<text x="1042.86" y="1783.8"  font-size="45.5" textLength="29.9" lengthAdjust="spacingAndGlyphs">P</text>
<line x1="162.5" y1="1301.83" x2="162.5" y2="1728.78" stroke="#231f20" stroke-width="2.75" />
<line x1="161.12" y1="1727.4" x2="1207.2" y2="1727.4" stroke="#231f20" stroke-width="2.75" />
<line x1="162.5" y1="1303.2" x2="173" y2="1303.2" stroke="#231f20" stroke-width="2.75" />
<line x1="162.5" y1="1424.4" x2="173" y2="1424.4" stroke="#231f20" stroke-width="2.75" />
<line x1="162.5" y1="1545.6" x2="173" y2="1545.6" stroke="#231f20" stroke-width="2.75" />
<line x1="162.5" y1="1666.8" x2="173" y2="1666.8" stroke="#231f20" stroke-width="2.75" />
<line x1="1423.5" y1="1304.3" x2="2468.2" y2="1304.3" stroke="#231f20" stroke-width="1.4" />
<rect x="1513.3" y="1304.3" width="118.4" height="237.5" fill="#6ecbdd" stroke="#231f20" stroke-width="2.7" clip-path="url(#clipC)"/>
<line x1="1572.5" y1="1541.8" x2="1572.5" y2="1612.7" stroke="#231f20" stroke-width="2.7" />
<line x1="1569.45" y1="1612.4" x2="1575.55" y2="1612.4" stroke="#231f20" stroke-width="2.6" />
<line x1="1572.5" y1="1727.4" x2="1572.5" y2="1716.9" stroke="#231f20" stroke-width="2.75" />
<text x="1557.76" y="1783.8"  font-size="45.5" textLength="29.9" lengthAdjust="spacingAndGlyphs">B</text>
<rect x="1662.6" y="1304.3" width="118.4" height="137.4" fill="#6ecbdd" stroke="#231f20" stroke-width="2.7" clip-path="url(#clipC)"/>
<line x1="1721.8" y1="1441.7" x2="1721.8" y2="1503.8" stroke="#231f20" stroke-width="2.7" />
<line x1="1718.75" y1="1503.5" x2="1724.85" y2="1503.5" stroke="#231f20" stroke-width="2.6" />
<line x1="1721.8" y1="1727.4" x2="1721.8" y2="1716.9" stroke="#231f20" stroke-width="2.75" />
<text x="1703.09" y="1783.8"  font-size="45.5" textLength="37.34" lengthAdjust="spacingAndGlyphs">M</text>
<rect x="1811.9" y="1304.3" width="118.4" height="252.3" fill="#6ecbdd" stroke="#231f20" stroke-width="2.7" clip-path="url(#clipC)"/>
<line x1="1871.1" y1="1556.6" x2="1871.1" y2="1620" stroke="#231f20" stroke-width="2.7" />
<line x1="1868.05" y1="1619.7" x2="1874.15" y2="1619.7" stroke="#231f20" stroke-width="2.6" />
<line x1="1871.1" y1="1727.4" x2="1871.1" y2="1716.9" stroke="#231f20" stroke-width="2.75" />
<text x="1855.96" y="1783.8"  font-size="45.5" textLength="29.9" lengthAdjust="spacingAndGlyphs">P</text>
<rect x="1961.2" y="1304.3" width="118.4" height="216.3" fill="#6cbd45" stroke="#231f20" stroke-width="2.7" clip-path="url(#clipC)"/>
<line x1="2020.4" y1="1520.6" x2="2020.4" y2="1556.7" stroke="#231f20" stroke-width="2.7" />
<line x1="2017.35" y1="1556.4" x2="2023.45" y2="1556.4" stroke="#231f20" stroke-width="2.6" />
<line x1="2020.4" y1="1727.4" x2="2020.4" y2="1716.9" stroke="#231f20" stroke-width="2.75" />
<text x="2005.66" y="1783.8"  font-size="45.5" textLength="29.9" lengthAdjust="spacingAndGlyphs">B</text>
<rect x="2110.5" y="1304.3" width="118.4" height="144.7" fill="#6cbd45" stroke="#231f20" stroke-width="2.7" clip-path="url(#clipC)"/>
<line x1="2169.7" y1="1449" x2="2169.7" y2="1510.2" stroke="#231f20" stroke-width="2.7" />
<line x1="2166.65" y1="1509.9" x2="2172.75" y2="1509.9" stroke="#231f20" stroke-width="2.6" />
<line x1="2169.7" y1="1727.4" x2="2169.7" y2="1716.9" stroke="#231f20" stroke-width="2.75" />
<text x="2150.98" y="1783.8"  font-size="45.5" textLength="37.34" lengthAdjust="spacingAndGlyphs">M</text>
<rect x="2259.8" y="1304.3" width="118.4" height="135.2" fill="#6cbd45" stroke="#231f20" stroke-width="2.7" clip-path="url(#clipC)"/>
<line x1="2319" y1="1439.5" x2="2319" y2="1515.2" stroke="#231f20" stroke-width="2.7" />
<line x1="2315.95" y1="1514.9" x2="2322.05" y2="1514.9" stroke="#231f20" stroke-width="2.6" />
<line x1="2319" y1="1727.4" x2="2319" y2="1716.9" stroke="#231f20" stroke-width="2.75" />
<text x="2303.86" y="1783.8"  font-size="45.5" textLength="29.9" lengthAdjust="spacingAndGlyphs">P</text>
<line x1="1423.5" y1="1301.83" x2="1423.5" y2="1728.78" stroke="#231f20" stroke-width="2.75" />
<line x1="1422.12" y1="1727.4" x2="2468.2" y2="1727.4" stroke="#231f20" stroke-width="2.75" />
<line x1="1423.5" y1="1303.2" x2="1434" y2="1303.2" stroke="#231f20" stroke-width="2.75" />
<line x1="1423.5" y1="1424.4" x2="1434" y2="1424.4" stroke="#231f20" stroke-width="2.75" />
<line x1="1423.5" y1="1545.6" x2="1434" y2="1545.6" stroke="#231f20" stroke-width="2.75" />
<line x1="1423.5" y1="1666.8" x2="1434" y2="1666.8" stroke="#231f20" stroke-width="2.75" />
<text x="121.5" y="1320.4"  font-size="45.5" textLength="25.31" lengthAdjust="spacingAndGlyphs">0</text>
<text x="96.75" y="1441.26"  font-size="45.5" textLength="50.62" lengthAdjust="spacingAndGlyphs">–2</text>
<text x="95.75" y="1562.12"  font-size="45.5" textLength="50.62" lengthAdjust="spacingAndGlyphs">–4</text>
<text x="96.5" y="1682.98"  font-size="45.5" textLength="50.62" lengthAdjust="spacingAndGlyphs">–6</text>
<text x="621.66" y="1841.2"  font-size="45.5" textLength="125.19" lengthAdjust="spacingAndGlyphs">Phase</text>
<text x="1882.66" y="1841.2"  font-size="45.5" textLength="125.19" lengthAdjust="spacingAndGlyphs">Phase</text>
<text x="0" y="0" transform="translate(49.3 1659.53) rotate(-90)" font-size="45.5" textLength="289.27" lengthAdjust="spacingAndGlyphs">PSE (degrees)</text>
<text x="2.2" y="1295.5"  font-size="51.7" font-weight="bold" textLength="38.11" lengthAdjust="spacingAndGlyphs">C</text>
</svg>
</body>
</html>
